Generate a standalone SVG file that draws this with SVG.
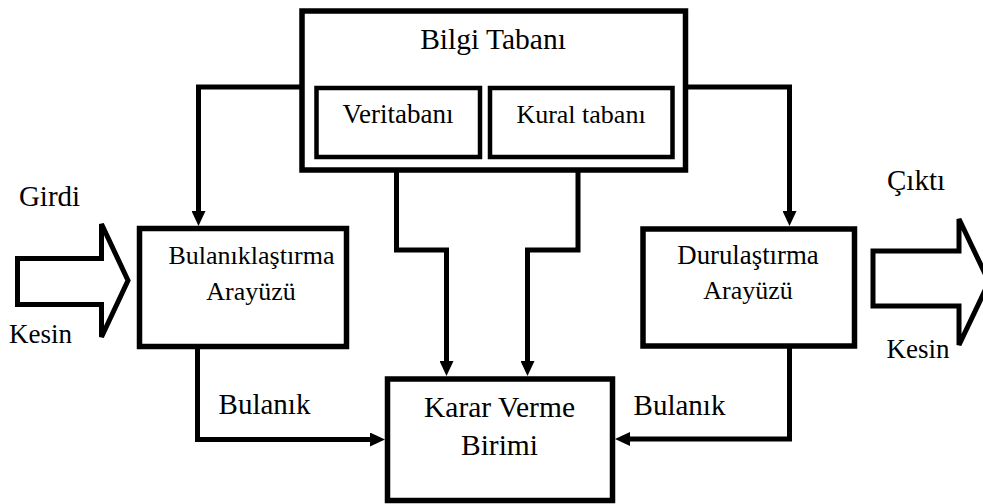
<svg xmlns="http://www.w3.org/2000/svg" width="983" height="504" viewBox="0 0 983 504">
<style>
text{font-family:"Liberation Serif","Times New Roman",serif;fill:#000;text-anchor:middle}
.box{fill:#fff;stroke:#000;stroke-width:5.5}
.inner{fill:#fff;stroke:#000;stroke-width:4.5}
.conn{fill:none;stroke:#000;stroke-width:5;stroke-linejoin:miter}
.big{fill:#fff;stroke:#000;stroke-width:5;stroke-linejoin:miter}
.t29{font-size:29.5px}
.tb{font-size:29px}
.t27{font-size:27px}
.t26{font-size:26px}
</style>
<defs>
<marker id="ah" markerUnits="userSpaceOnUse" markerWidth="15" markerHeight="14" refX="5" refY="7" orient="auto">
<path d="M0,0 L15,7 L0,14 Z" fill="#000"/>
</marker>
</defs>
<rect width="983" height="504" fill="#fff"/>
<g id="connectors">
<path class="conn" d="M302,87 H198.5 V216" marker-end="url(#ah)"/>
<path class="conn" d="M685.5,87 H789.5 V216" marker-end="url(#ah)"/>
<path class="conn" d="M396.5,157 V250 H446.5 V366" marker-end="url(#ah)"/>
<path class="conn" d="M578,157 V250 H527.5 V366" marker-end="url(#ah)"/>
<path class="conn" d="M197.5,346.5 V439.5 H375" marker-end="url(#ah)"/>
<path class="conn" d="M789.5,346 V439 H625" marker-end="url(#ah)"/>
</g>
<g id="bilgi-tabani">
<rect class="box" x="302" y="11" width="383.5" height="159"/>
<text class="t29" x="493" y="49">Bilgi Tabanı</text>
</g>
<g id="veritabani">
<rect class="inner" x="316.5" y="88" width="163.5" height="69"/>
<text class="t27" x="398" y="123">Veritabanı</text>
</g>
<g id="kural-tabani">
<rect class="inner" x="490" y="88" width="182.5" height="69"/>
<text class="t26" x="581" y="123">Kural tabanı</text>
</g>
<g id="bulaniklastirma">
<rect class="box" x="139.5" y="228.5" width="207" height="118"/>
<text class="t26" x="251.5" y="264">Bulanıklaştırma</text>
<text class="t26" x="251" y="300">Arayüzü</text>
</g>
<g id="durulastirma">
<rect class="box" x="643" y="229" width="211.5" height="117"/>
<text class="t26" x="748" y="264" style="font-size:26.8px">Durulaştırma</text>
<text class="t26" x="748" y="299">Arayüzü</text>
</g>
<g id="karar-verme">
<rect class="box" x="387.5" y="379" width="225" height="121.5"/>
<text class="t29" x="499.5" y="417">Karar Verme</text>
<text class="t29" x="499.5" y="455">Birimi</text>
</g>
<g id="girdi">
<polygon class="big" points="17.5,258.5 101.5,258.5 101.5,224 128,280.5 101.5,337 101.5,304.5 17.5,304.5"/>
<text class="tb" x="49.5" y="206">Girdi</text>
<text class="t27" x="40.5" y="343">Kesin</text>
</g>
<g id="cikti">
<polygon class="big" points="873,251 959,251 959,219 989,282 959,345 959,306 873,306"/>
<text class="tb" x="916" y="190">Çıktı</text>
<text class="t27" x="918" y="358">Kesin</text>
</g>
<g id="labels">
<text class="tb" x="264.5" y="414">Bulanık</text>
<text class="tb" x="679.5" y="415">Bulanık</text>
</g>
</svg>
